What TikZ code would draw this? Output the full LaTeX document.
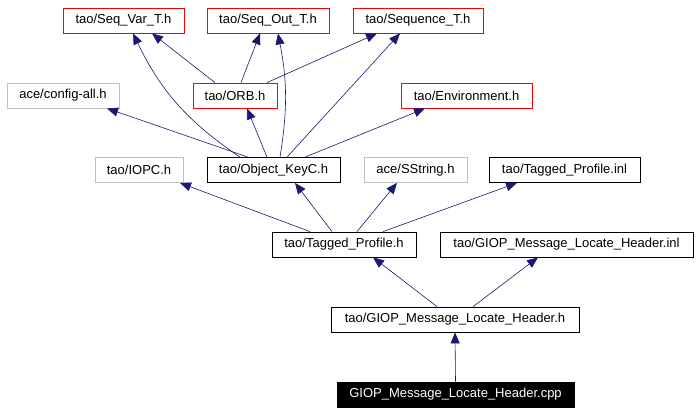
\documentclass[tikz,border=0pt]{standalone}
\usepackage{fontspec}
\setmainfont{Liberation Sans}
\usetikzlibrary{arrows.meta}
\definecolor{edgeblue}{HTML}{191970}
\definecolor{boxgray}{HTML}{BFBFBF}
\tikzset{
  file/.style={
    rectangle, draw=black, line width=0.8pt,
    font=\fontsize{13}{15}\selectfont,
    minimum height=25pt, inner sep=0pt,
  },
  redfile/.style={file, draw=red},
  grayfile/.style={file, draw=boxgray},
  mainfile/.style={file, fill=black, text=white},
  dep/.style={
    draw=edgeblue, line width=0.6pt,
    -{Triangle[length=11pt,width=9pt,fill=edgeblue]}
  }
}

\begin{document}
\begin{tikzpicture}[x=1pt, y=-1pt]
  \useasboundingbox (0,0) rectangle (700,413);
  % top row
  \node[redfile, minimum width=121pt] (seqvar) at (123.5,20.5) {tao/Seq\_Var\_T.h};
  \node[redfile, minimum width=122pt] (seqout) at (268,20.5) {tao/Seq\_Out\_T.h};
  \node[redfile, minimum width=130pt] (seqt) at (418,20.5) {tao/Sequence\_T.h};
  % second row
  \node[grayfile, minimum width=112pt] (config) at (63,95.5) {ace/config-all.h};
  \node[redfile, minimum width=84pt] (orb) at (235,95.5) {tao/ORB.h};
  \node[redfile, minimum width=131pt] (env) at (466.5,95.5) {tao/Environment.h};
  % third row
  \node[grayfile, minimum width=88pt] (iopc) at (139,170) {tao/IOPC.h};
  \node[file, minimum width=133pt] (keyc) at (273.5,170) {tao/Object\_KeyC.h};
  \node[grayfile, minimum width=103pt] (sstring) at (415.5,170) {ace/SString.h};
  \node[file, minimum width=151pt] (tpinl) at (564.5,170) {tao/Tagged\_Profile.inl};
  % fourth row
  \node[file, minimum width=144pt] (tph) at (344,244.5) {tao/Tagged\_Profile.h};
  \node[file, minimum width=253pt] (giopinl) at (566.5,244.5) {tao/GIOP\_Message\_Locate\_Header.inl};
  % bottom
  \node[file, minimum width=248pt] (gioph) at (455,319.5) {tao/GIOP\_Message\_Locate\_Header.h};
  \node[mainfile, minimum width=237pt] (cpp) at (455.5,394.5) {GIOP\_Message\_Locate\_Header.cpp};

  % includes
  \draw[dep] (cpp.north) -- (gioph.south);
  \draw[dep] ([xshift=-18pt]gioph.north) -- ([xshift=29pt]tph.south);
  \draw[dep] ([xshift=18pt]gioph.north) -- ([xshift=-28.5pt]giopinl.south);
  \draw[dep] ([xshift=-34pt]tph.north) -- ([xshift=41pt]iopc.south);
  \draw[dep] ([xshift=-12pt]tph.north) -- ([xshift=21.5pt]keyc.south);
  \draw[dep] ([xshift=13pt]tph.north) -- ([xshift=-18.5pt]sstring.south);
  \draw[dep] ([xshift=39pt]tph.north) -- ([xshift=-47.5pt]tpinl.south);
  \draw[dep] ([xshift=-25.5pt]keyc.north) -- ([xshift=44pt]config.south);
  \draw[dep] ([xshift=-33.5pt]keyc.north) to[bend left=15] ([xshift=9.5pt]seqvar.south);
  \draw[dep] ([xshift=-6.5pt]keyc.north) -- ([xshift=12pt]orb.south);
  \draw[dep] ([xshift=6.5pt]keyc.north) to[bend right=10] ([xshift=10pt]seqout.south);
  \draw[dep] ([xshift=13.5pt]keyc.north) -- ([xshift=-18pt]seqt.south);
  \draw[dep] ([xshift=31.5pt]keyc.north) -- ([xshift=-41.5pt]env.south);
  \draw[dep] ([xshift=-20pt]orb.north) -- ([xshift=28.5pt]seqvar.south);
  \draw[dep] ([xshift=6pt]orb.north) -- ([xshift=-8pt]seqout.south);
  \draw[dep] ([xshift=32pt]orb.north) -- ([xshift=-41pt]seqt.south);
\end{tikzpicture}
\end{document}
